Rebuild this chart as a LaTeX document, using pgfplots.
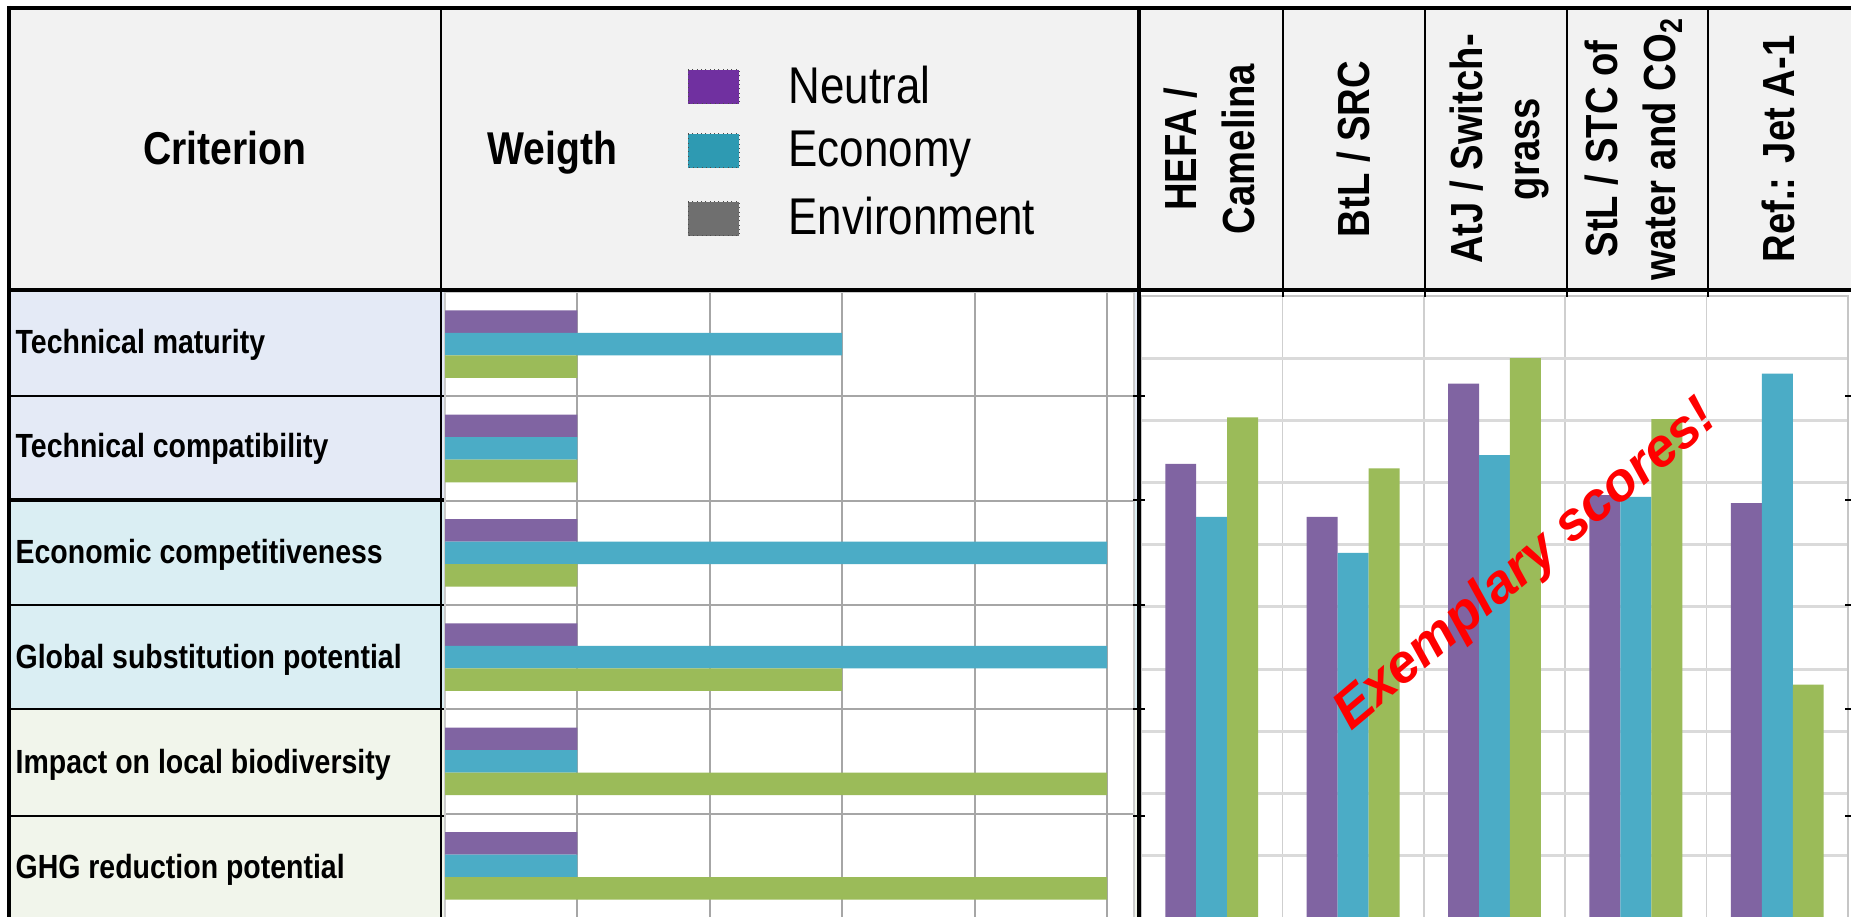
\documentclass[border=0pt]{standalone}
\usepackage{fontspec}
\setmainfont{Liberation Sans}[FakeStretch=0.85]
\newfontfamily\stampfont{Liberation Sans}
\usepackage{pgfplots}
\pgfplotsset{compat=1.18}
\usepackage{pgfplotstable}

\definecolor{barN}{HTML}{8064A2}
\definecolor{barE}{HTML}{4BACC6}
\definecolor{barV}{HTML}{9BBB59}
\definecolor{legN}{HTML}{7030A0}
\definecolor{legE}{HTML}{2E9AB2}
\definecolor{legV}{HTML}{6F6F6F}
\definecolor{hdrbg}{HTML}{F2F2F2}
\definecolor{techbg}{HTML}{E4EAF6}
\definecolor{econbg}{HTML}{DAEEF3}
\definecolor{envbg}{HTML}{F1F5EB}
\definecolor{gridA}{HTML}{A6A6A6}
\definecolor{gridB}{HTML}{DADADA}
\definecolor{gridC}{HTML}{CFCFCF}

% weight of each criterion per weighting scheme (row 0 = top criterion)
\pgfplotstableread{
row neutral economy environment
0 1 3 1
1 1 1 1
2 1 5 1
3 1 5 3
4 1 1 5
5 1 1 5
}\weights

% weighted score of each pathway
\pgfplotstableread{
pos neutral economy environment
0 7.30 6.45 8.05
1 6.45 5.87 7.23
2 8.59 7.44 9.00
3 6.80 6.77 8.02
4 6.67 8.75 3.75
}\scores

\begin{document}
\begin{tikzpicture}
% table backgrounds (1 unit = 1 px of the layout grid)
\begin{scope}[x=0.3pt,y=-0.3pt]
  \fill[hdrbg] (9,8) rectangle (1851,290);
  \fill[techbg] (9,290) rectangle (1139,500);
  \fill[econbg] (9,500) rectangle (1139,709);
  \fill[envbg] (9,709) rectangle (1139,917);
\end{scope}

% weights of the criteria
\begin{axis}[
  at={(133.5pt,-87.6pt)}, anchor=north west,
  scale only axis, width=206.7pt, height=187.8pt,
  xbar, xmin=0, xmax=5.204, ymin=-0.5, ymax=5.5, y dir=reverse,
  xtick={1,2,3,4,5}, ytick={0.5,1.5,2.5,3.5,4.5},
  xticklabels={}, yticklabels={}, major tick length=0pt,
  xmajorgrids, ymajorgrids,
  grid style={gridA, line width=0.6pt},
  axis line style={draw=gray!40, line width=0.5pt},
  axis background/.style={fill=white},
  bar width=0.2157,
]
\addplot[fill=barN, draw=none, bar shift=-0.2157] table[x=neutral, y=row]{\weights};
\addplot[fill=barE, draw=none, bar shift=0] table[x=economy, y=row]{\weights};
\addplot[fill=barV, draw=none, bar shift=0.2157] table[x=environment, y=row]{\weights};
\end{axis}

% scores of the pathways
\begin{axis}[
  at={(342.3pt,-275.4pt)}, anchor=south west,
  scale only axis, width=212.1pt, height=186.6pt,
  ybar, xmin=-0.5, xmax=4.5, ymin=0, ymax=10,
  xtick={0.5,1.5,2.5,3.5}, ytick={1,2,3,4,5,6,7,8,9},
  xticklabels={}, yticklabels={}, major tick length=0pt,
  xmajorgrids, ymajorgrids,
  x grid style={gridC, line width=0.5pt},
  y grid style={gridB, line width=0.9pt},
  axis line style={draw=gray!45, line width=0.5pt},
  axis background/.style={fill=white},
  bar width=0.219,
]
\addplot[fill=barN, draw=none, bar shift=-0.219] table[x=pos, y=neutral]{\scores};
\addplot[fill=barE, draw=none, bar shift=0] table[x=pos, y=economy]{\scores};
\addplot[fill=barV, draw=none, bar shift=0.219] table[x=pos, y=environment]{\scores};
\end{axis}

\begin{scope}[x=0.3pt,y=-0.3pt, every node/.append style={inner sep=0pt}]
  % stamp across the scores
  \node[rotate=40, text=red, font=\stampfont\fontsize{16.2}{19}\selectfont\bfseries\itshape]
    at (1526,566) {Exemplary scores!};

  % ruling
  \draw[line width=1.2pt] (7,8) -- (1851,8);
  \draw[line width=1.05pt] (9,6) -- (9,917);
  \draw[line width=1.2pt] (9,290) -- (1851,290);
  \draw[line width=0.75pt] (441,8) -- (441,917);
  \draw[line width=1.4pt] (1139,8) -- (1139,917);
  \foreach \x in {1283,1425,1567,1708} \draw[line width=0.6pt] (\x,8) -- (\x,297);
  \foreach \y in {396,605,709,816} \draw[line width=0.6pt] (9,\y) -- (444,\y);
  \draw[line width=1.2pt] (9,500) -- (444,500);
  \foreach \y in {396,500,605,709,816} {
    \draw[line width=0.6pt] (1133,\y) -- (1145,\y);
    \draw[line width=0.6pt] (1845,\y) -- (1851,\y);
  }

  % header
  \node[anchor=base, font=\fontsize{13.8}{16}\selectfont\bfseries] at (225,165) {Criterion};
  \node[anchor=base west, font=\fontsize{13.8}{16}\selectfont\bfseries] at (487,165) {Weigth};

  \fill[legN] (688,70) rectangle (739,104);
  \fill[legE] (688,134) rectangle (739,168);
  \fill[legV] (688,202) rectangle (739,236);
  \foreach \y in {70,134,202}
    \draw[gray!60!black, densely dotted, line width=0.3pt] (688,\y) rectangle (739,\y+34);
  \node[anchor=base west, font=\fontsize{15.5}{18}\selectfont] at (788,104) {Neutral};
  \node[anchor=base west, font=\fontsize{15.5}{18}\selectfont] at (788,167) {Economy};
  \node[anchor=base west, font=\fontsize{15.5}{18}\selectfont] at (788,235) {Environment};

  \tikzset{colhead/.style={anchor=base, rotate=90, font=\fontsize{13.5}{16}\selectfont\bfseries}}
  \node[colhead] at (1196,149) {HEFA /};
  \node[colhead] at (1254,149) {Camelina};
  \node[colhead] at (1369,149) {BtL / SRC};
  \node[colhead] at (1482,149) {AtJ / Switch-};
  \node[colhead] at (1539,149) {grass};
  \node[colhead] at (1617,149) {StL / STC of};
  \node[colhead] at (1675,149) {water and CO\textsubscript{2}};
  \node[colhead] at (1794,149) {Ref.: Jet A-1};

  % criteria
  \tikzset{crit/.style={anchor=base west, font=\fontsize{10.05}{12}\selectfont\bfseries}}
  \node[crit] at (15,354) {Technical maturity};
  \node[crit] at (15,457) {Technical compatibility};
  \node[crit] at (15,563) {Economic competitiveness};
  \node[crit] at (15,668) {Global substitution potential};
  \node[crit] at (15,773) {Impact on local biodiversity};
  \node[crit] at (15,878) {GHG reduction potential};
\end{scope}

% page is exactly the table area
\pgfresetboundingbox
\path[use as bounding box] (0pt,0pt) rectangle (555.3pt,-275.1pt);
\end{tikzpicture}
\end{document}
